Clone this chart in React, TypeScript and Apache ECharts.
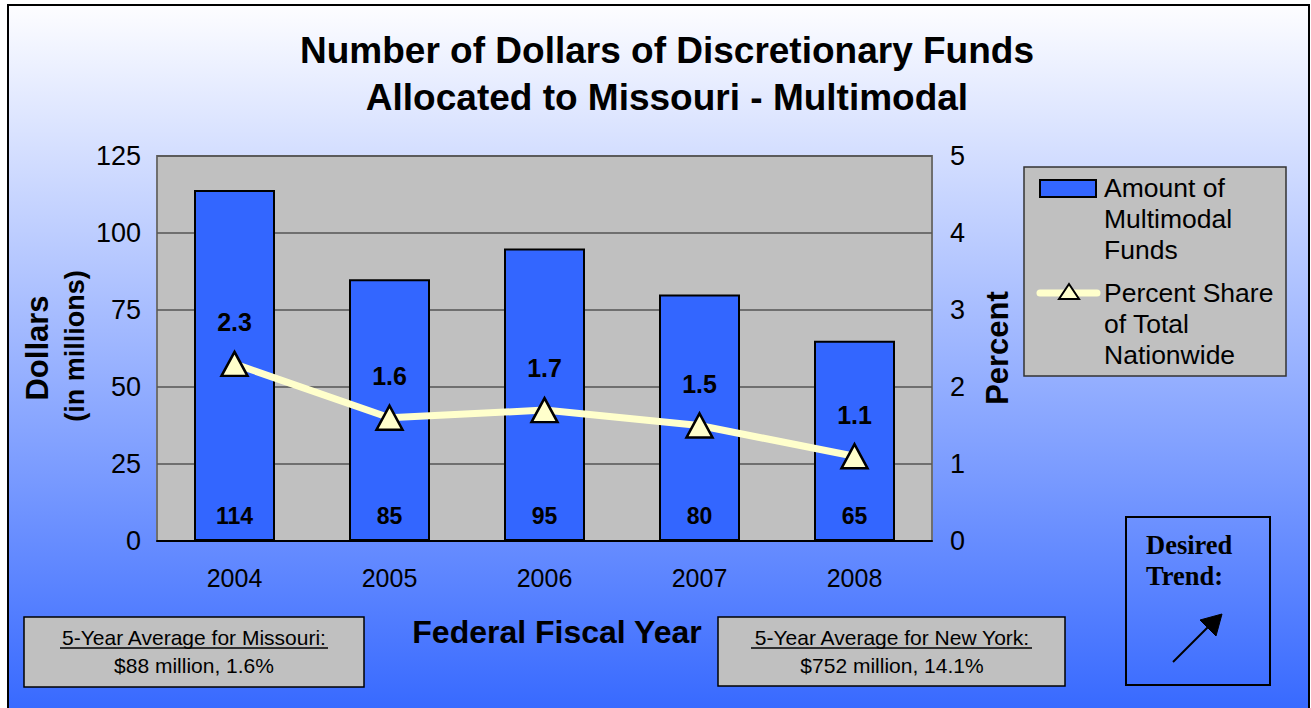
import React, { useEffect, useRef } from "react";
import * as echarts from "echarts";

const years = ["2004", "2005", "2006", "2007", "2008"];
const dollars = [114, 85, 95, 80, 65];
const percentShare = [2.3, 1.6, 1.7, 1.5, 1.1];
const titleLines = ["Number of Dollars of Discretionary Funds", "Allocated to Missouri - Multimodal"];
const legendBar = ["Amount of", "Multimodal", "Funds"];
const legendLine = ["Percent Share", "of Total", "Nationwide"];
const missouriBox = ["5-Year Average for Missouri:", "$88 million, 1.6%"];
const newYorkBox = ["5-Year Average for New York:", "$752 million, 14.1%"];

const SANS = "'Liberation Sans', Arial, Helvetica, sans-serif";
const SERIF = "'Liberation Serif', 'Times New Roman', serif";

export default function App() {
  const ref = useRef<HTMLDivElement>(null);
  useEffect(() => {
    document.body.style.margin = "0";
    if (!ref.current) return;
    const chart = echarts.init(ref.current, null, { renderer: "svg" });
    const txt = (text: string, x: number, y: number, font: string, align = "center", rotation = 0) => ({
      type: "text",
      x,
      y,
      rotation,
      style: { text, font, fill: "#000", align, verticalAlign: "middle" },
    });
    const graphic: any[] = [
      txt(titleLines[0], 667, 50, `bold 37px ${SANS}`),
      txt(titleLines[1], 667, 97, `bold 37px ${SANS}`),
      txt("Dollars", 37, 348, `bold 31px ${SANS}`, "center", Math.PI / 2),
      txt("(in millions)", 75, 346, `bold 27px ${SANS}`, "center", Math.PI / 2),
      txt("Percent", 997, 348, `bold 31px ${SANS}`, "center", Math.PI / 2),
      txt("Federal Fiscal Year", 557, 632, `bold 32px ${SANS}`),
      // legend
      { type: "rect", shape: { x: 1024, y: 167, width: 262, height: 209 }, style: { fill: "#c0c0c0", stroke: "#333", lineWidth: 1.5 } },
      { type: "rect", shape: { x: 1040, y: 180, width: 56, height: 17 }, style: { fill: "#3366ff", stroke: "#000", lineWidth: 2 } },
      ...legendBar.map((t, i) => txt(t, 1104, 188 + i * 31, `26.5px ${SANS}`, "left")),
      { type: "line", shape: { x1: 1040, y1: 293, x2: 1097, y2: 293 }, style: { stroke: "#ffffcc", lineWidth: 7, lineCap: "round" } },
      { type: "polygon", shape: { points: [[1069, 284], [1059, 299], [1079, 299]] }, style: { fill: "#ffffcc", stroke: "#000", lineWidth: 2 } },
      ...legendLine.map((t, i) => txt(t, 1104, 293 + i * 31, `26.5px ${SANS}`, "left")),
      // bottom boxes
      { type: "rect", shape: { x: 24, y: 617, width: 340, height: 70 }, style: { fill: "#c0c0c0", stroke: "#000", lineWidth: 1.5 } },
      txt(missouriBox[0], 194, 637, `21px ${SANS}`),
      { type: "line", shape: { x1: 60, y1: 648, x2: 328, y2: 648 }, style: { stroke: "#000", lineWidth: 1.5 } },
      txt(missouriBox[1], 194, 665, `21px ${SANS}`),
      { type: "rect", shape: { x: 718, y: 617, width: 347, height: 69 }, style: { fill: "#c0c0c0", stroke: "#000", lineWidth: 1.5 } },
      txt(newYorkBox[0], 892, 637, `21px ${SANS}`),
      { type: "line", shape: { x1: 751, y1: 648, x2: 1032, y2: 648 }, style: { stroke: "#000", lineWidth: 1.5 } },
      txt(newYorkBox[1], 892, 665, `21px ${SANS}`),
      // desired trend
      { type: "rect", shape: { x: 1126, y: 517, width: 144, height: 168 }, style: { fill: "none", stroke: "#000", lineWidth: 2 } },
      txt("Desired", 1146, 545, `bold 26.5px ${SERIF}`, "left"),
      txt("Trend:", 1146, 576, `bold 26.5px ${SERIF}`, "left"),
      { type: "line", shape: { x1: 1173, y1: 662, x2: 1208, y2: 627 }, style: { stroke: "#000", lineWidth: 2 } },
      { type: "polygon", shape: { points: [[1222, 614], [1200, 620], [1216, 636]] }, style: { fill: "#000", stroke: "#000", lineWidth: 1 } },
    ];
    chart.setOption({
      animation: false,
      backgroundColor: "transparent",
      grid: {
        left: 157,
        top: 156,
        width: 775,
        height: 385,
        show: true,
        backgroundColor: "#c0c0c0",
        borderColor: "#6f6f6f",
        borderWidth: 2,
      },
      xAxis: {
        type: "category",
        data: years,
        axisLine: { lineStyle: { color: "#000", width: 2 } },
        axisTick: { show: false },
        axisLabel: { color: "#000", fontFamily: SANS, fontSize: 25, margin: 24 },
      },
      yAxis: [
        {
          type: "value",
          min: 0,
          max: 125,
          interval: 25,
          axisLine: { show: false },
          axisTick: { show: false },
          splitLine: { lineStyle: { color: "#555", width: 1.5 } },
          axisLabel: { color: "#000", fontFamily: SANS, fontSize: 27, margin: 16 },
        },
        {
          type: "value",
          min: 0,
          max: 5,
          interval: 1,
          axisLine: { show: false },
          axisTick: { show: false },
          splitLine: { show: false },
          axisLabel: { color: "#000", fontFamily: SANS, fontSize: 27, margin: 18 },
        },
      ],
      series: [
        {
          type: "bar",
          data: dollars,
          barWidth: 81,
          itemStyle: { color: "#3366ff", borderColor: "#000", borderWidth: 2 },
          label: {
            show: true,
            position: "insideBottom",
            distance: 14,
            color: "#000",
            fontWeight: "bold",
            fontFamily: SANS,
            fontSize: 23,
          },
        },
        {
          type: "line",
          yAxisIndex: 1,
          data: percentShare,
          symbol: "triangle",
          symbolSize: [26, 24],
          lineStyle: { color: "#ffffcc", width: 7 },
          itemStyle: { color: "#ffffcc", borderColor: "#000", borderWidth: 2.5 },
          label: {
            show: true,
            position: "top",
            distance: 16,
            color: "#000",
            fontWeight: "bold",
            fontFamily: SANS,
            fontSize: 25,
          },
          z: 5,
        },
      ],
      graphic,
    });
    return () => chart.dispose();
  }, []);
  return (
    <div style={{ position: "absolute", left: 0, top: 0, width: 1311, height: 708, background: "#fff", overflow: "hidden" }}>
      <div
        style={{
          position: "absolute",
          left: 7,
          top: 4,
          width: 1299,
          height: 720,
          border: "2px solid #000",
          background: "linear-gradient(to bottom, #fdfdff 0%, #3366ff 100%)",
        }}
      />
      <div ref={ref} style={{ position: "absolute", left: 0, top: 0, width: 1311, height: 708 }} />
    </div>
  );
}
